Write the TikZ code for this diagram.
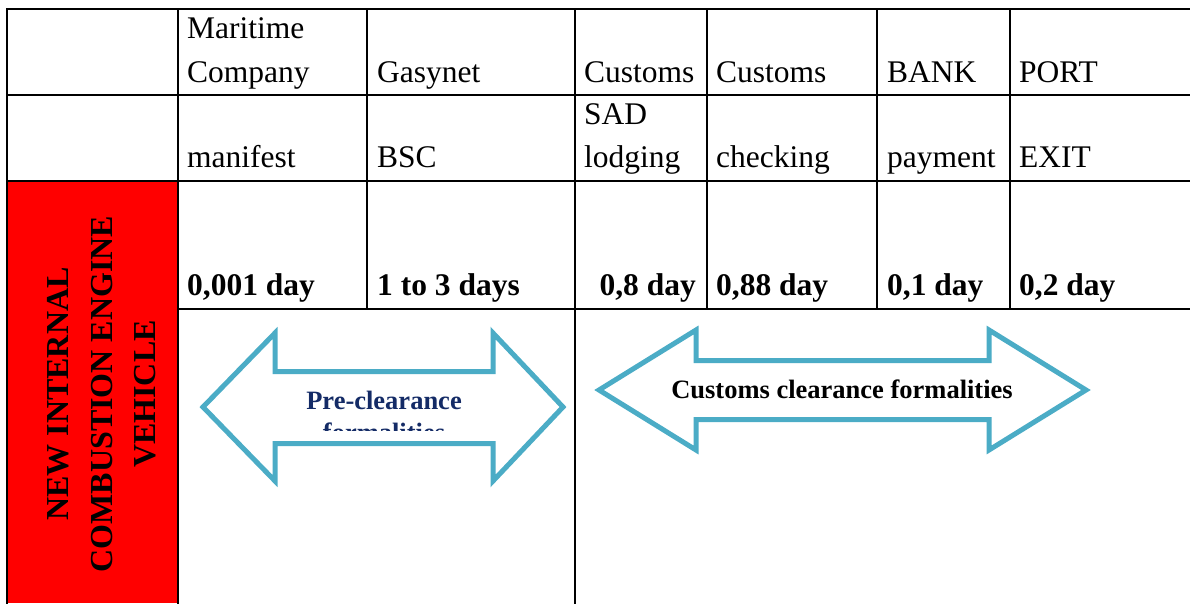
\documentclass[tikz,border=0pt]{standalone}
\usepackage{fontspec}
\setmainfont{Liberation Serif}
\definecolor{arrowblue}{HTML}{4BACC6}
\definecolor{navytext}{HTML}{142B66}
\definecolor{cellred}{HTML}{FF0000}
\begin{document}
\begin{tikzpicture}[x=1pt,y=-1pt,
  grid/.style={line width=2.4pt, line cap=rect},
  cell/.style={inner sep=0pt, font=\fontsize{31.5}{38}\selectfont},
  cellb/.style={inner sep=0pt, font=\fontsize{31.5}{38}\selectfont\bfseries},
  vert/.style={inner sep=0pt, rotate=90, anchor=base, font=\fontsize{32}{38}\selectfont\bfseries},
  bigarrow/.style={draw=arrowblue, line width=5pt, fill=white, line join=miter},
  arrowtext/.style={inner sep=0pt, anchor=base, font=\fontsize{26.5}{32}\selectfont\bfseries}]
\useasboundingbox (0,0) rectangle (1190,603);
% red cell
\fill[cellred] (7,181) rectangle (178,603);
% grid
\draw[grid] (7,9) -- (1195,9);
\draw[grid] (7,95) -- (1195,95);
\draw[grid] (7,181) -- (1195,181);
\draw[grid] (178,309) -- (1195,309);
\draw[grid] (7,9) -- (7,610);
\draw[grid] (178,9) -- (178,610);
\draw[grid] (367,9) -- (367,309);
\draw[grid] (575,9) -- (575,610);
\draw[grid] (707,9) -- (707,309);
\draw[grid] (877,9) -- (877,309);
\draw[grid] (1010,9) -- (1010,309);
% row 1
\node[cell, anchor=base west] (mar1) at (187,38) {Maritime};
\node[cell, anchor=base west] (mar2) at (187,82) {Company};
\node[cell, anchor=base west] (gas) at (377,82) {Gasynet};
\node[cell, anchor=base west] (cus1) at (584,82) {Customs};
\node[cell, anchor=base west] (cus2) at (716,82) {Customs};
\node[cell, anchor=base west] (bank) at (887,82) {BANK};
\node[cell, anchor=base west] (port) at (1019,82) {PORT};
% row 2
\node[cell, anchor=base west] (man) at (187,167) {manifest};
\node[cell, anchor=base west] (bsc) at (377,167) {BSC};
\node[cell, anchor=base west] (sad1) at (584,124) {SAD};
\node[cell, anchor=base west] (sad2) at (584,167) {lodging};
\node[cell, anchor=base west] (chk) at (716,167) {checking};
\node[cell, anchor=base west] (pay) at (887,167) {payment};
\node[cell, anchor=base west] (exit) at (1019,167) {EXIT};
% row 3
\node[cellb, anchor=base west] (d1) at (187,295) {0,001 day};
\node[cellb, anchor=base west] (d2) at (377,295) {1 to 3 days};
\node[cellb, anchor=base east] (d3) at (696,295) {0,8 day};
\node[cellb, anchor=base west] (d4) at (716,295) {0,88 day};
\node[cellb, anchor=base west] (d5) at (887,295) {0,1 day};
\node[cellb, anchor=base west] (d6) at (1019,295) {0,2 day};
% vertical label
\node[vert] (v1) at (68,394) {NEW INTERNAL};
\node[vert] (v2) at (112,394) {COMBUSTION ENGINE};
\node[vert] (v3) at (155,394) {VEHICLE};
% pre-clearance arrow
\draw[bigarrow] (203,407) -- (275,333) -- (275,371.5) -- (493,371.5) -- (493,333)
  -- (563,407) -- (493,481) -- (493,443.5) -- (275,443.5) -- (275,481) -- cycle;
\begin{scope}
\clip (280,376) rectangle (490,430);
\node[arrowtext, text=navytext] (pre1) at (384,409) {Pre-clearance};
\node[arrowtext, text=navytext] (pre2) at (384,441) {formalities};
\end{scope}
% customs clearance arrow
\draw[bigarrow] (599,390) -- (696,330) -- (696,360.5) -- (989,360.5) -- (989,330)
  -- (1086,390) -- (989,450) -- (989,419.7) -- (696,419.7) -- (696,450) -- cycle;
\node[arrowtext] (ccf) at (842,398) {Customs clearance formalities};
\end{tikzpicture}
\end{document}
